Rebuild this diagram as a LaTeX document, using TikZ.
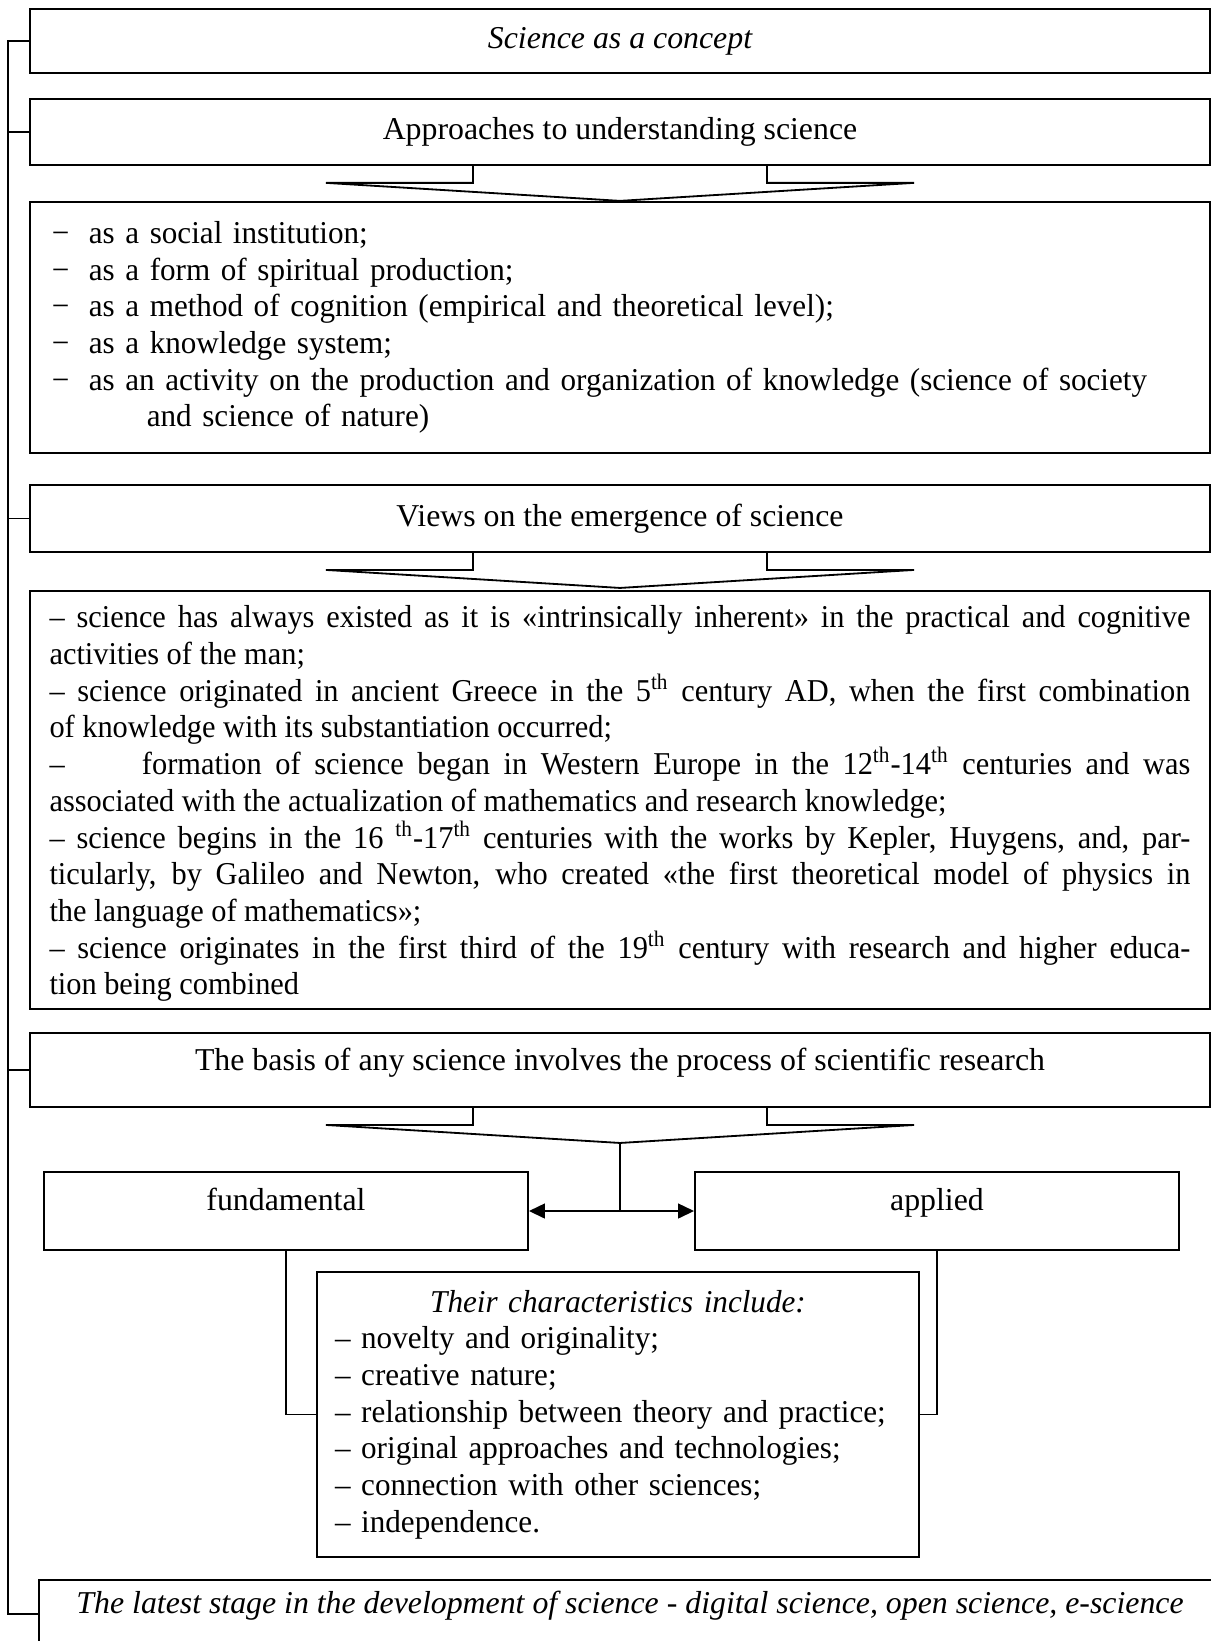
\documentclass[tikz,border=0pt]{standalone}
\usepackage{fontspec}
\setmainfont{Liberation Serif}
\newfontfamily\narrowfont[FakeStretch=0.955]{Liberation Serif}
\newfontfamily\listfont[FakeStretch=0.978]{Liberation Serif}
\usetikzlibrary{arrows.meta}
\setlength{\parindent}{0pt}
\newcommand{\boxfont}{\fontsize{14}{16.15}\selectfont}
\newcommand{\thsup}{\textsuperscript{th}}
\newcommand{\fullline}[1]{\makebox[\hsize][s]{#1}}
\newcommand{\dashitem}{\makebox[16.3pt][l]{−}}

\begin{document}
\begin{tikzpicture}[x=0.44pt, y=-0.44pt, line width=0.8pt,
    box/.style={draw, inner sep=0pt, minimum width=519.2pt, align=center, font=\boxfont},
    itbox/.style={box, font=\boxfont\itshape},
    dblarrow/.style={{Triangle[length=7pt,width=6.5pt]}-{Triangle[length=7pt,width=6.5pt]}}]
    \useasboundingbox (0,0) rectangle (1211,1641);

    % 标题框
    \node[itbox, minimum height=28.2pt] (concept) at (620,41) {Science as a concept};
    \node[box, minimum height=29pt] (approaches) at (620,132) {Approaches to understanding science};

    % 理解科学的方法
    \node[box, minimum height=110.4pt, text width=500pt, inner xsep=9.7pt, align=left,
      font=\listfont\boxfont] (ways) at (620,327.5) {%
      \dashitem as a social institution;\\
      \dashitem as a form of spiritual production;\\
      \dashitem as a method of cognition (empirical and theoretical level);\\
      \dashitem as a knowledge system;\\
      \dashitem as an activity on the production and organization of knowledge (science of society\\
      \hspace*{41.8pt}and science of nature)};

    \node[box, minimum height=29.5pt] (views) at (620,518.5) {Views on the emergence of science};

    % 科学起源的观点
    \node[box, minimum height=184pt, text width=502pt, inner xsep=8.6pt, align=left,
      font=\narrowfont\boxfont] (origins) at (620,800) {%
      \spaceskip=3.3pt plus 6pt minus 1pt\relax
      \rule{0pt}{13pt}\fullline{– science has always existed as it is «intrinsically inherent» in the practical and cognitive}\\
      activities of the man;\\
      \fullline{– science originated in ancient Greece in the 5\thsup{} century AD, when the first combination}\\
      of knowledge with its substantiation occurred;\\
      \fullline{–\hspace*{34pt}formation of science began in Western Europe in the 12\thsup-14\thsup{} centuries and was}\\
      associated with the actualization of mathematics and research knowledge;\\
      \fullline{– science begins in the 16 \thsup-17\thsup{} centuries with the works by Kepler, Huygens, and, par-}\\
      \fullline{ticularly, by Galileo and Newton, who created «the first theoretical model of physics in}\\
      the language of mathematics»;\\
      \fullline{– science originates in the first third of the 19\thsup{} century with research and higher educa-}\\
      tion being combined};

    \node[box, minimum height=32.6pt, text depth=9pt] (basis) at (620,1070) {The basis of any science involves the process of scientific research};

    % 宽箭头
    \foreach \bn in {approaches,views,basis}
    \draw (\bn.south) ++(-147,0) -- ++(0,17) -- ++(-147,0) -- ++(294,18)
      -- ++(294,-18) -- ++(-147,0) -- ++(0,-17);
    \path (basis.south) ++(0,35) coordinate (basistip);

    % 基础研究与应用研究
    \node[box, minimum width=213pt, minimum height=34.3pt, text depth=10pt] (fundamental) at (286,1211) {fundamental};
    \node[box, minimum width=213pt, minimum height=34.3pt, text depth=10pt] (applied) at (937,1211) {applied};
    \draw (basistip) -- (basistip |- fundamental.east);
    \draw[dblarrow] (fundamental.east) -- (applied.west);

    \node[box, minimum width=264.9pt, minimum height=125.4pt, text width=249pt, inner xsep=8pt, align=left,
      font=\listfont\boxfont] (traits) at (618,1414.5) {%
      \makebox[\hsize]{\itshape Their characteristics include:}\\
      – novelty and originality;\\
      – creative nature;\\
      – relationship between theory and practice;\\
      – original approaches and technologies;\\
      – connection with other sciences;\\
      – independence.};
    \draw (fundamental.south) |- (traits.west);
    \draw (applied.south) |- (traits.east);

    \node[itbox, minimum width=520pt, minimum height=30pt, text depth=10pt] (latest) at (630,1614) {The latest stage in the development of science - digital science, open science, e-science};

    % 左侧连线
    \coordinate (spinetop) at (8,41);
    \coordinate (spinebot) at (8,1614);
    \draw (concept.west) -- (spinetop) -- (spinebot) -- (latest.west);
    \foreach \bn in {approaches,views,basis}
    \draw (\bn.west) -- (\bn.west -| spinetop);
\end{tikzpicture}
\end{document}
